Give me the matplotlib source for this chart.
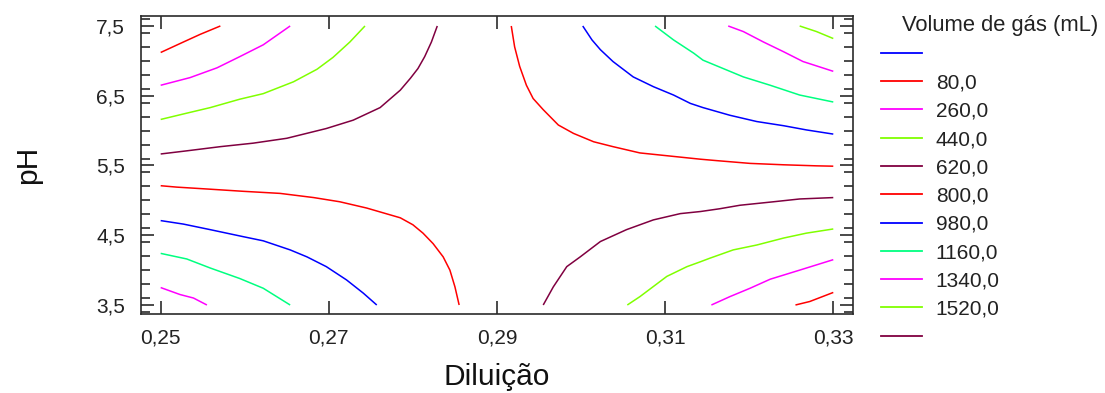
import matplotlib
matplotlib.use("Agg")
import matplotlib.pyplot as plt
from matplotlib.lines import Line2D
from matplotlib.ticker import FixedLocator, MultipleLocator, FuncFormatter

plt.rcParams['font.family'] = ['Liberation Sans', 'DejaVu Sans']

# ---------------- data ----------------
x_ticks = [0.25, 0.27, 0.29, 0.31, 0.33]
y_ticks = [3.5, 4.5, 5.5, 6.5, 7.5]

levels = [80, 260, 440, 620, 800, 980, 1160, 1340, 1520]
level_colors = {80: '#ff0000', 260: '#ff00ff', 440: '#80ff00', 620: '#800040',
                800: '#ff0000', 980: '#0000ff', 1160: '#00ff80', 1340: '#ff00ff',
                1520: '#80ff00'}
legend_labels = ['', '80,0', '260,0', '440,0', '620,0', '800,0', '980,0',
                 '1160,0', '1340,0', '1520,0', '']
legend_colors = ['#0000ff', '#ff0000', '#ff00ff', '#80ff00', '#800040', '#ff0000',
                 '#0000ff', '#00ff80', '#ff00ff', '#80ff00', '#800040']

# contour lines (Diluição, pH)
c80_ul_x = [0.2500, 0.2527, 0.2547, 0.2571]
c80_ul_y = [7.12, 7.27, 7.38, 7.50]
c260_ul_x = [0.2500, 0.2535, 0.2567, 0.2594, 0.2622, 0.2654]
c260_ul_y = [6.65, 6.76, 6.90, 7.06, 7.23, 7.50]
c440_ul_x = [0.2500, 0.2531, 0.2559, 0.2594, 0.2622, 0.2658, 0.2686, 0.2705, 0.2725, 0.2743]
c440_ul_y = [6.16, 6.25, 6.33, 6.45, 6.53, 6.70, 6.88, 7.05, 7.27, 7.50]
c620_ul_x = [0.2500, 0.2531, 0.2571, 0.2610, 0.2650, 0.2697, 0.2729, 0.2761, 0.2785,
             0.2797, 0.2806, 0.2814, 0.2822, 0.2829]
c620_ul_y = [5.665, 5.71, 5.77, 5.82, 5.89, 6.03, 6.15, 6.33, 6.58, 6.75, 6.89, 7.06,
             7.27, 7.50]

c800_ur_x = [0.2917, 0.2921, 0.2927, 0.2935, 0.2943, 0.2955, 0.2973, 0.2991, 0.3015,
             0.3038, 0.3070, 0.3102, 0.3142, 0.3161, 0.3201, 0.3241, 0.3280, 0.3300]
c800_ur_y = [7.50, 7.20, 6.92, 6.65, 6.46, 6.30, 6.08, 5.96, 5.84, 5.77, 5.68, 5.64,
             5.59, 5.57, 5.53, 5.51, 5.495, 5.49]
c980_ur_x = [0.3002, 0.3013, 0.3023, 0.3038, 0.3062, 0.3086, 0.3110, 0.3130, 0.3145,
             0.3177, 0.3209, 0.3241, 0.3268, 0.3300]
c980_ur_y = [7.50, 7.30, 7.16, 6.99, 6.77, 6.63, 6.51, 6.39, 6.33, 6.22, 6.13, 6.07,
             6.01, 5.95]
c1160_ur_x = [0.3088, 0.3110, 0.3134, 0.3145, 0.3169, 0.3193, 0.3225, 0.3260, 0.3300]
c1160_ur_y = [7.50, 7.30, 7.11, 7.01, 6.89, 6.77, 6.65, 6.51, 6.41]
c1340_ur_x = [0.3175, 0.3193, 0.3217, 0.3241, 0.3264, 0.3300]
c1340_ur_y = [7.50, 7.42, 7.27, 7.13, 6.99, 6.85]
c1520_ur_x = [0.3260, 0.3280, 0.3300]
c1520_ur_y = [7.50, 7.42, 7.32]

c800_ll_x = [0.2500, 0.2519, 0.2559, 0.2598, 0.2642, 0.2682, 0.2713, 0.2745, 0.2785,
             0.2800, 0.2812, 0.2824, 0.2836, 0.2844, 0.2850, 0.2855]
c800_ll_y = [5.21, 5.19, 5.16, 5.13, 5.10, 5.04, 4.98, 4.89, 4.75, 4.65, 4.53, 4.38,
             4.19, 4.00, 3.76, 3.50]
c980_ll_x = [0.2500, 0.2527, 0.2559, 0.2598, 0.2622, 0.2654, 0.2674, 0.2697, 0.2721,
             0.2741, 0.2757]
c980_ll_y = [4.71, 4.66, 4.58, 4.48, 4.42, 4.29, 4.19, 4.05, 3.86, 3.67, 3.50]
c1160_ll_x = [0.2500, 0.2531, 0.2559, 0.2594, 0.2622, 0.2654]
c1160_ll_y = [4.24, 4.16, 4.03, 3.88, 3.74, 3.50]
c1340_ll_x = [0.2500, 0.2523, 0.2539, 0.2555]
c1340_ll_y = [3.75, 3.65, 3.60, 3.50]

c620_lr_x = [0.2955, 0.2967, 0.2983, 0.2999, 0.3023, 0.3054, 0.3086, 0.3118, 0.3142,
             0.3165, 0.3189, 0.3229, 0.3260, 0.3300]
c620_lr_y = [3.50, 3.76, 4.05, 4.19, 4.41, 4.58, 4.72, 4.81, 4.84, 4.88, 4.93, 4.98,
             5.02, 5.04]
c440_lr_x = [0.3055, 0.3070, 0.3102, 0.3126, 0.3142, 0.3153, 0.3181, 0.3209, 0.3241,
             0.3268, 0.3300]
c440_lr_y = [3.50, 3.62, 3.91, 4.05, 4.12, 4.17, 4.29, 4.36, 4.46, 4.53, 4.59]
c260_lr_x = [0.3155, 0.3177, 0.3201, 0.3225, 0.3260, 0.3300]
c260_lr_y = [3.50, 3.62, 3.74, 3.87, 4.00, 4.15]
c80_lr_x = [0.3255, 0.3272, 0.3300]
c80_lr_y = [3.50, 3.55, 3.68]

contour_lines = [
    (80, c80_ul_x, c80_ul_y), (260, c260_ul_x, c260_ul_y),
    (440, c440_ul_x, c440_ul_y), (620, c620_ul_x, c620_ul_y),
    (800, c800_ur_x, c800_ur_y), (980, c980_ur_x, c980_ur_y),
    (1160, c1160_ur_x, c1160_ur_y), (1340, c1340_ur_x, c1340_ur_y),
    (1520, c1520_ur_x, c1520_ur_y),
    (800, c800_ll_x, c800_ll_y), (980, c980_ll_x, c980_ll_y),
    (1160, c1160_ll_x, c1160_ll_y), (1340, c1340_ll_x, c1340_ll_y),
    (620, c620_lr_x, c620_lr_y), (440, c440_lr_x, c440_lr_y),
    (260, c260_lr_x, c260_lr_y), (80, c80_lr_x, c80_lr_y),
]

# ---------------- figure ----------------
W, H = 1105, 393
fig = plt.figure(figsize=(W / 100, H / 100), dpi=100)
ax = fig.add_axes([141 / W, 1 - 314.3 / H, (853.3 - 141) / W, (314.3 - 16) / H])

for lev, xs, ys in contour_lines:
    ax.plot(xs, ys, color=level_colors[lev], lw=1.1, solid_capstyle='butt',
            solid_joinstyle='round')

ax.set_xlim(0.24766, 0.33238)
ax.set_ylim(3.3667, 7.643)

spine_col = '#2b2b2b'
for s in ax.spines.values():
    s.set_color(spine_col)
    s.set_linewidth(1.2)

ax.xaxis.set_major_locator(FixedLocator(x_ticks))
ax.yaxis.set_major_locator(FixedLocator(y_ticks))
ax.yaxis.set_minor_locator(MultipleLocator(0.2))
ax.xaxis.set_major_formatter(FuncFormatter(lambda v, p: f"{v:.2f}".replace('.', ',')))
ax.yaxis.set_major_formatter(FuncFormatter(lambda v, p: f"{v:.1f}".replace('.', ',')))

ax.tick_params(axis='both', which='both', direction='in', top=True, right=True,
               color=spine_col, width=1.2, labelcolor='#222222', labelsize=15)
ax.tick_params(axis='both', which='major', length=9.5)
ax.tick_params(axis='y', which='minor', length=6.5)
ax.tick_params(axis='y', which='major', pad=11.5)
ax.tick_params(axis='x', which='major', pad=10.5)

ax.set_xlabel('Diluição', fontsize=21.5, color='#111111')
ax.set_ylabel('pH', fontsize=21.5, color='#111111')
ax.xaxis.set_label_coords(0.5, -0.162)
ax.yaxis.set_label_coords(-0.139, 0.5)

handles = [Line2D([], [], color=c, lw=1.3) for c in legend_colors]
leg = ax.legend(handles, legend_labels, loc='upper left',
                bbox_to_anchor=(881 / W, 1 - 45.2 / H), bbox_transform=fig.transFigure,
                frameon=False, fontsize=15, handlelength=1.95, handletextpad=0.68,
                labelspacing=0.445, borderpad=0, borderaxespad=0)
for t in leg.get_texts():
    t.set_color('#222222')

fig.text(902 / W, 1 - 25 / H, 'Volume de gás (mL)', ha='left', va='center',
         fontsize=15.8, color='#222222')

fig.savefig('out.png', dpi=100)
